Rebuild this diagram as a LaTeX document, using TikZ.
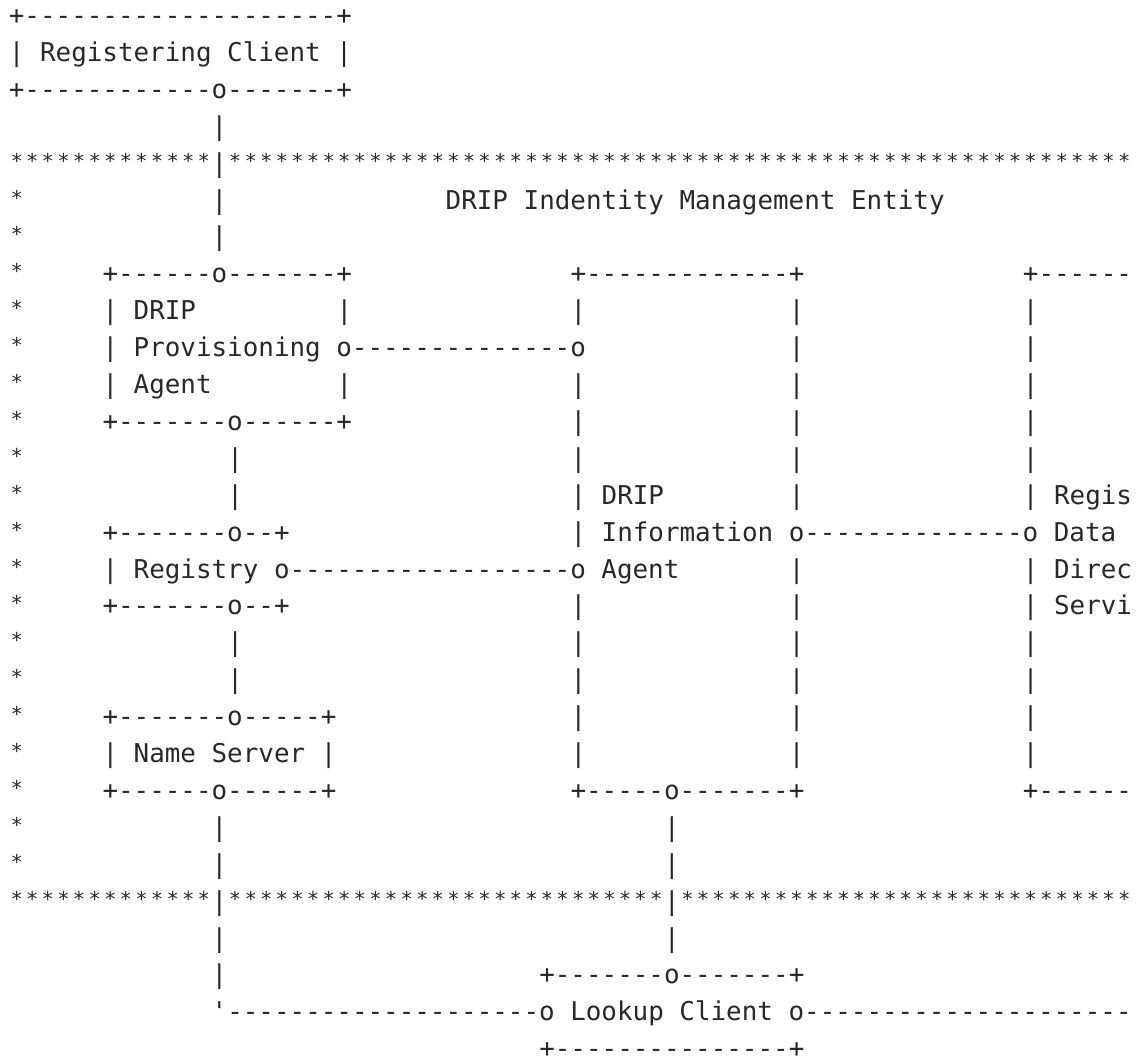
\documentclass[tikz,border=0pt]{standalone}
\usepackage{fontspec}
\setmonofont{DejaVu Sans Mono}
\definecolor{inkgray}{RGB}{40,40,40}

% repeat a character n times
\ExplSyntaxOn
\cs_new:Npn \rep #1#2 { \prg_replicate:nn {#1} {#2} }
\ExplSyntaxOff

% character grid: column width, row pitch, origin of column 0 / first baseline
\def\cw{15.6}
\def\lh{36.9}
\def\xorg{8.9}
\def\yorg{24.5}

% a smaller, raised asterisk that keeps the column width
\newcommand\aster{\makebox[\cw pt][c]{\raisebox{4pt}{\fontsize{20.5}{37}\selectfont *}}}

% one run of characters starting at row #1, column #2
\newcommand\seg[3]{%
  \node[ascii] (r#1c#2) at ({\xorg+#2*\cw},{-(\yorg+(#1-1)*\lh)}) {#3};}

\begin{document}
\begin{tikzpicture}[x=1pt,y=1pt,
  ascii/.style={anchor=base west, inner sep=0pt, outer sep=0pt, text=inkgray,
    font=\ttfamily\fontsize{25.9}{37}\selectfont}]
\useasboundingbox (0,0) rectangle (1136,-1062);
\clip (0,0) rectangle (1136,-1062);

% Registering Client
\seg{1}{0}{+\rep{20}{-}+}
\seg{2}{0}{| Registering Client |}
\seg{3}{0}{+\rep{12}{-}o\rep{7}{-}+}
\seg{4}{13}{|}

% upper border of the management entity
\seg{5}{0}{\rep{13}{\aster}|\rep{58}{\aster}}
\seg{6}{0}{\aster}\seg{6}{13}{|}\seg{6}{28}{DRIP Indentity Management Entity}
\seg{7}{0}{\aster}\seg{7}{13}{|}

% Provisioning Agent, Information Agent, RDDS tops
\seg{8}{0}{\aster}\seg{8}{6}{+\rep{6}{-}o\rep{7}{-}+}\seg{8}{36}{+\rep{13}{-}+}\seg{8}{65}{+\rep{6}{-}}
\seg{9}{0}{\aster}\seg{9}{6}{| DRIP}\seg{9}{21}{|}\seg{9}{36}{|}\seg{9}{50}{|}\seg{9}{65}{|}
\seg{10}{0}{\aster}\seg{10}{6}{| Provisioning o\rep{14}{-}o}\seg{10}{50}{|}\seg{10}{65}{|}
\seg{11}{0}{\aster}\seg{11}{6}{| Agent}\seg{11}{21}{|}\seg{11}{36}{|}\seg{11}{50}{|}\seg{11}{65}{|}
\seg{12}{0}{\aster}\seg{12}{6}{+\rep{7}{-}o\rep{6}{-}+}\seg{12}{36}{|}\seg{12}{50}{|}\seg{12}{65}{|}
\seg{13}{0}{\aster}\seg{13}{14}{|}\seg{13}{36}{|}\seg{13}{50}{|}\seg{13}{65}{|}

% Registry and the agent/RDDS links
\seg{14}{0}{\aster}\seg{14}{14}{|}\seg{14}{36}{| DRIP}\seg{14}{50}{|}\seg{14}{65}{| Regis}
\seg{15}{0}{\aster}\seg{15}{6}{+\rep{7}{-}o\rep{2}{-}+}\seg{15}{36}{| Information o\rep{14}{-}o Data}
\seg{16}{0}{\aster}\seg{16}{6}{| Registry o\rep{18}{-}o Agent}\seg{16}{50}{|}\seg{16}{65}{| Direc}
\seg{17}{0}{\aster}\seg{17}{6}{+\rep{7}{-}o\rep{2}{-}+}\seg{17}{36}{|}\seg{17}{50}{|}\seg{17}{65}{| Servi}
\seg{18}{0}{\aster}\seg{18}{14}{|}\seg{18}{36}{|}\seg{18}{50}{|}\seg{18}{65}{|}
\seg{19}{0}{\aster}\seg{19}{14}{|}\seg{19}{36}{|}\seg{19}{50}{|}\seg{19}{65}{|}

% Name Server and box bottoms
\seg{20}{0}{\aster}\seg{20}{6}{+\rep{7}{-}o\rep{5}{-}+}\seg{20}{36}{|}\seg{20}{50}{|}\seg{20}{65}{|}
\seg{21}{0}{\aster}\seg{21}{6}{| Name Server |}\seg{21}{36}{|}\seg{21}{50}{|}\seg{21}{65}{|}
\seg{22}{0}{\aster}\seg{22}{6}{+\rep{6}{-}o\rep{6}{-}+}\seg{22}{36}{+\rep{5}{-}o\rep{7}{-}+}\seg{22}{65}{+\rep{6}{-}}
\seg{23}{0}{\aster}\seg{23}{13}{|}\seg{23}{42}{|}
\seg{24}{0}{\aster}\seg{24}{13}{|}\seg{24}{42}{|}

% lower border of the management entity
\seg{25}{0}{\rep{13}{\aster}|\rep{28}{\aster}|\rep{29}{\aster}}

% Lookup Client
\seg{26}{13}{|}\seg{26}{42}{|}
\seg{27}{13}{|}\seg{27}{34}{+\rep{7}{-}o\rep{7}{-}+}
\seg{28}{13}{'\rep{20}{-}o Lookup Client o\rep{21}{-}}
\seg{29}{34}{+\rep{15}{-}+}
\end{tikzpicture}
\end{document}
